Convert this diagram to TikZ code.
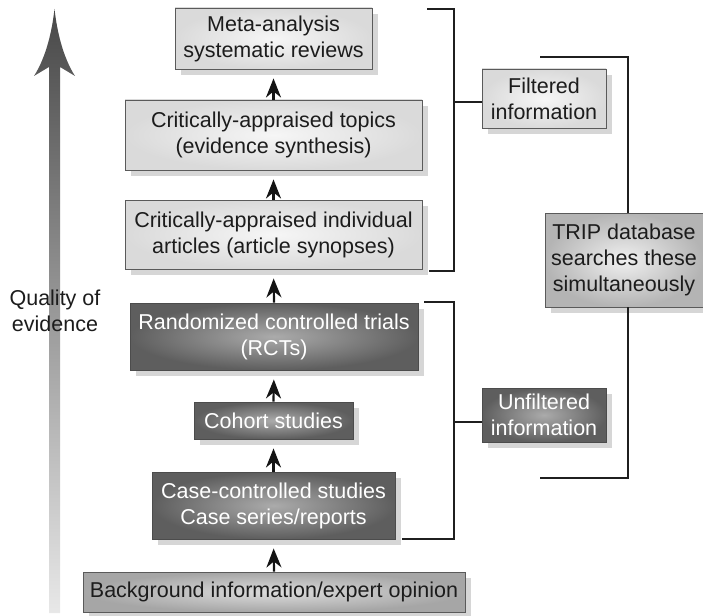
\documentclass[tikz,border=0pt]{standalone}
\usepackage{fontspec}
\setmainfont{Liberation Sans}
\usetikzlibrary{shadows,arrows.meta}
\definecolor{lightin}{HTML}{F6F6F6}
\definecolor{lightout}{HTML}{DADADA}
\definecolor{darkin}{HTML}{ABABAB}
\definecolor{darkout}{HTML}{5E5E5E}
\definecolor{bgin}{HTML}{DCDCDC}
\definecolor{bgout}{HTML}{A6A6A6}
\definecolor{tripin}{HTML}{F0F0F0}
\definecolor{tripout}{HTML}{B4B4B4}
\definecolor{shadowgray}{HTML}{D6D6D6}
\definecolor{boxline}{HTML}{5A5A5A}
\definecolor{txt}{HTML}{1C1C1C}
\definecolor{qtop}{HTML}{484848}
\definecolor{qbot}{HTML}{E8E8E8}
\tikzset{
  box/.style={draw=boxline, line width=0.9pt, inner sep=0pt, align=center,
    text=txt, font=\fontsize{21.5}{26}\selectfont,
    drop shadow={shadow xshift=6pt, shadow yshift=-6pt, fill=shadowgray, opacity=1}},
  lightbox/.style={box, inner color=lightin, outer color=lightout},
  darkbox/.style={box, inner color=darkin, outer color=darkout, text=white, draw=black!70},
  bgbox/.style={box, inner color=bgin, outer color=bgout},
  tripbox/.style={box, inner color=tripin, outer color=tripout},
  arr/.style={line width=2.2pt, black!92, shorten >=9pt,
    -{Stealth[length=19pt, width=15pt, inset=6pt]}},
  bracket/.style={line width=2pt, black!88},
  qlabel/.style={align=center, text=txt, font=\fontsize{21.5}{26}\selectfont, inner sep=0pt}
}
\begin{document}
\begin{tikzpicture}[x=1pt,y=-1pt]
\useasboundingbox (0,0) rectangle (703,615);

% quality arrow
\shade[top color=qtop, bottom color=qbot]
  (54.5,9) .. controls (51,40) and (43,62) .. (34,76) -- (49,67) -- (49,613)
  -- (60,613) -- (60,67) -- (75,76) .. controls (66,62) and (58,40) .. (54.5,9) -- cycle;
\node[qlabel] (q) at (55,311) {Quality of\\evidence};

% boxes
\node[lightbox, minimum width=197pt, minimum height=61pt] (meta) at (273.5,38.5) {Meta-analysis\\systematic reviews};
\node[lightbox, minimum width=297pt, minimum height=70pt] (cat) at (273.5,135) {Critically-appraised topics\\(evidence synthesis)};
\node[lightbox, minimum width=297pt, minimum height=69pt] (cia) at (273.5,234.5) {Critically-appraised individual\\articles (article synopses)};
\node[darkbox, minimum width=288pt, minimum height=67pt] (rct) at (274,336.5) {Randomized controlled trials\\(RCTs)};
\node[darkbox, minimum width=159pt, minimum height=37pt] (coh) at (273.5,420.5) {Cohort studies};
\node[darkbox, minimum width=243pt, minimum height=67pt] (case) at (273.5,505.5) {Case-controlled studies\\Case series/reports};
\node[bgbox, minimum width=382pt, minimum height=40pt] (bg) at (274,592) {Background information/expert opinion};

\node[lightbox, minimum width=124pt, minimum height=59pt] (filt) at (544,98.5) {Filtered\\information};
\node[darkbox, minimum width=124pt, minimum height=54pt] (unf) at (544,415) {Unfiltered\\information};
\node[tripbox, minimum width=158pt, minimum height=94pt] (trip) at (624,260) {TRIP database\\searches these\\simultaneously};

% arrows between boxes
\draw[arr] (bg.north) -- (case.south);
\draw[arr] (case.north) -- (coh.south);
\draw[arr] (coh.north) -- (rct.south);
\draw[arr] (rct.north) -- (cia.south);
\draw[arr] (cia.north) -- (cat.south);
\draw[arr] (cat.north) -- (meta.south);

% filtered bracket
\coordinate (f1) at (427,9);
\coordinate (f2) at (454,9);
\coordinate (f3) at (454,271);
\coordinate (f4) at (429,271);
\coordinate (fm) at (454,102);
\draw[bracket] (f1) -- (f2) -- (f3) -- (f4);
\draw[bracket] (fm) -- (fm -| filt.west);

% unfiltered bracket
\coordinate (u1) at (424,302);
\coordinate (u2) at (454,302);
\coordinate (u3) at (454,539);
\coordinate (u4) at (402,539);
\coordinate (um) at (454,422);
\draw[bracket] (u1) -- (u2) -- (u3) -- (u4);
\draw[bracket] (um) -- (um -| unf.west);

% TRIP bracket
\coordinate (t1) at (540,57);
\coordinate (t2) at (628,57);
\coordinate (t3) at (628,478);
\coordinate (t4) at (540,478);
\draw[bracket] (t1) -- (t2) -- (t2 |- trip.north);
\draw[bracket] (t4) -- (t3) -- (t3 |- trip.south);
\end{tikzpicture}
\end{document}
